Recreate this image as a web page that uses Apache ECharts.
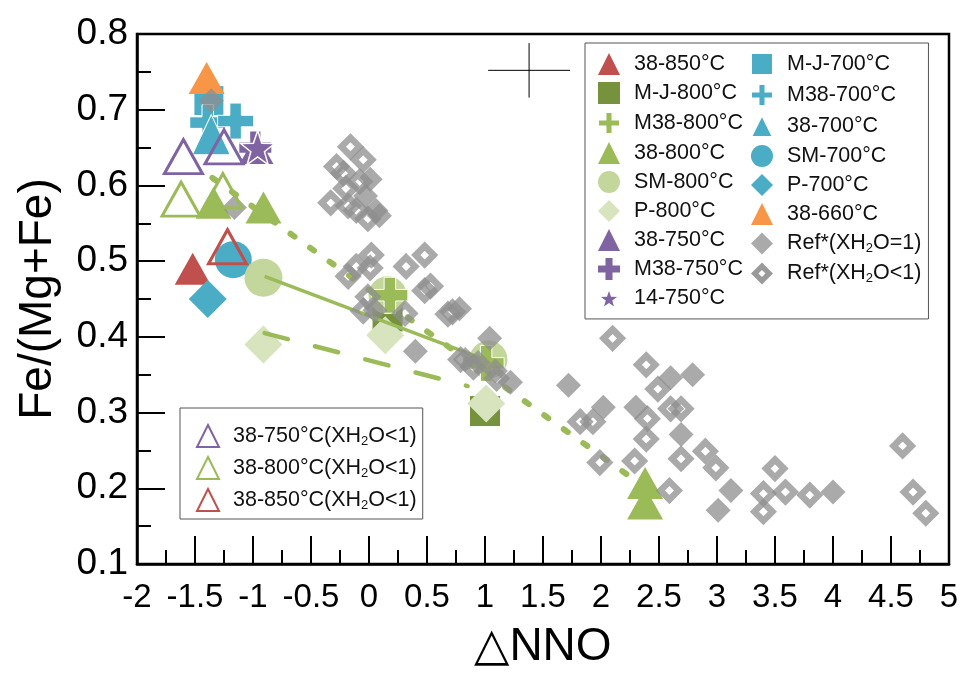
<!DOCTYPE html>
<html>
<head>
<meta charset="utf-8">
<script src="https://cdn.jsdelivr.net/npm/echarts@6/dist/echarts.min.js"></script>
<style>html,body{margin:0;padding:0;background:#fff}#chart{width:963px;height:675px}</style>
</head>
<body>
<div id="chart"></div>
<script>
// ---- data (ΔNNO, Fe/(Mg+Fe)) ----
const s38_850 = [[-1.52, 0.49]];
const mj800 = [[0.16, 0.427], [1.0, 0.302]];
const m38_800 = [[0.18, 0.455], [1.01, 0.365]];
const s38_800 = [[-1.34, 0.577], [-0.91, 0.571], [2.38, 0.207], [2.38, 0.18]];
const sm800 = [[-0.91, 0.478], [0.16, 0.455], [1.03, 0.37]];
const p800 = [[-0.91, 0.39], [0.14, 0.402], [1.01, 0.312]];
const s38_750 = [[-0.97, 0.648]];
const m38_750 = [[-0.98, 0.65]];
const s14_750 = [[-0.96, 0.65]];
const mj700 = [[-1.38, 0.712]];
const m38_700 = [[-1.39, 0.683], [-1.15, 0.685]];
const s38_700 = [[-1.36, 0.667]];
const sm700 = [[-1.17, 0.502]];
const p700 = [[-1.39, 0.45]];
const s38_660 = [[-1.40, 0.742]];
const open750 = [[-1.60, 0.638], [-1.25, 0.651]];
const open800 = [[-1.62, 0.582], [-1.26, 0.593]];
const open850 = [[-1.22, 0.519]];
const refSat = [[-1.36, 0.712], [-1.16, 0.571], [0.01, 0.608], [-0.03, 0.586], [0.06, 0.567], [0.09, 0.56],
  [0.05, 0.435], [0.78, 0.437], [0.40, 0.381], [0.83, 0.37], [1.04, 0.398], [0.94, 0.366], [1.09, 0.355],
  [1.22, 0.34], [1.72, 0.336], [2.60, 0.346], [2.79, 0.350], [2.02, 0.307], [2.30, 0.307], [2.69, 0.271],
  [3.12, 0.197], [3.01, 0.171], [4.00, 0.195]];
const refUnsat = [[-0.16, 0.651], [-0.05, 0.634], [-0.28, 0.625], [-0.22, 0.616], [-0.20, 0.596], [-0.33, 0.577],
  [-0.18, 0.573], [-0.11, 0.567], [-0.01, 0.556], [-0.08, 0.605],
  [-0.11, 0.493], [0.02, 0.508], [0.01, 0.491], [-0.18, 0.48], [0.32, 0.493], [0.48, 0.508], [0.53, 0.467],
  [0.48, 0.461], [0.72, 0.433], [-0.01, 0.453], [-0.05, 0.434], [0.31, 0.431], [0.79, 0.37], [0.68, 0.43],
  [0.90, 0.36], [1.10, 0.345],
  [2.10, 0.398], [2.39, 0.363], [2.49, 0.331], [1.82, 0.288], [1.93, 0.288], [2.40, 0.292], [2.60, 0.305],
  [2.69, 0.305], [2.39, 0.265], [2.69, 0.239], [2.90, 0.249], [2.99, 0.227], [1.99, 0.234], [2.29, 0.236],
  [2.59, 0.197], [3.40, 0.193], [3.40, 0.169], [3.50, 0.226], [3.59, 0.195], [3.80, 0.191], [4.60, 0.256],
  [4.69, 0.195], [4.80, 0.167]];
const trendDotted = [[-1.35, 0.61], [2.3, 0.21]];
const trendSolid = [[-0.9, 0.48], [1.0, 0.37]];
const trendDashed = [[-0.9, 0.405], [0.85, 0.335]];
const crossCenter = [1.38, 0.752];
const crossHalf = [0.353, 0.036];
const xTicks = {min: -2, max: 5, step: 0.5};
const yTicks = {min: 0.1, max: 0.8, step: 0.1};
const legendMain = ['38-850°C', 'M-J-800°C', 'M38-800°C', '38-800°C', 'SM-800°C', 'P-800°C', '38-750°C', 'M38-750°C', '14-750°C',
  'M-J-700°C', 'M38-700°C', '38-700°C', 'SM-700°C', 'P-700°C', '38-660°C', 'Ref*(XH2O=1)', 'Ref*(XH2O<1)'];
const legendOpen = ['38-750°C(XH2O<1)', '38-800°C(XH2O<1)', '38-850°C(XH2O<1)'];

// ---- styling ----
const RED = '#c0504d', OLIVE = '#76923c', GREEN = '#9bbb59', LGREEN = '#c3d69b', PGREEN = '#d7e4bd',
      PURPLE = '#8064a2', CYAN = '#4bacc6', ORANGE = '#f79646', GRAY = '#8e8e8e';
const PLUS = 'path://M34,0 H66 V34 H100 V66 H66 V100 H34 V66 H0 V34 H34 Z';
const STAR = 'path://M50,0 L61.76,33.82 L97.55,34.55 L69.02,56.18 L79.39,90.45 L50,70 L20.61,90.45 L30.98,56.18 L2.45,34.55 L38.24,33.82 Z';
const RING = 'path://M50,0 L100,50 L50,100 L0,50 Z M50,34 L34,50 L50,66 L66,50 Z';
const FONT = '"Liberation Sans", Arial, sans-serif';

function sc(name, data, symbol, size, color, extra) {
  return {
    type: 'scatter', name: name, data: data, symbol: symbol, symbolSize: size,
    itemStyle: Object.assign({color: color, opacity: 1}, (extra && extra.itemStyle) || {}),
    emphasis: {disabled: true}, z: (extra && extra.z) || 3
  };
}
function ln(data, style) {
  return {type: 'line', data: data, symbol: 'none', silent: true, z: 4, lineStyle: style, emphasis: {disabled: true}};
}
const crossH = [[crossCenter[0] - crossHalf[0], crossCenter[1]], [crossCenter[0] + crossHalf[0], crossCenter[1]]];
const crossV = [[crossCenter[0], crossCenter[1] - crossHalf[1]], [crossCenter[0], crossCenter[1] + crossHalf[1]]];
const whiteEdge = {borderColor: '#ffffff', borderWidth: 1};

const series = [
  sc('M-J-700°C', mj700, 'rect', 30, CYAN, {itemStyle: whiteEdge}),
  sc('M38-700°C', m38_700, PLUS, 36, CYAN, {itemStyle: whiteEdge}),
  sc('38-700°C', s38_700, 'triangle', [38, 40], CYAN, {itemStyle: whiteEdge}),
  sc('38-660°C', s38_660, 'triangle', [36, 32], ORANGE),
  sc('38-850°C', s38_850, 'triangle', [36, 32], RED),
  sc('SM-700°C', sm700, 'circle', 37, CYAN),
  sc('P-700°C', p700, 'diamond', 38, CYAN),
  sc('38-750°C', s38_750, 'triangle', [34, 30], PURPLE),
  sc('M38-750°C', m38_750, PLUS, 32, PURPLE),
  sc('14-750°C', s14_750, STAR, 34, PURPLE, {itemStyle: {borderColor: '#ffffff', borderWidth: 1.5}}),
  sc('38-800°C', s38_800, 'triangle', [36, 32], GREEN),
  sc('M-J-800°C', mj800, 'rect', 30, OLIVE),
  sc('P-800°C', p800, 'diamond', 38, PGREEN),
  sc('SM-800°C', sm800, 'circle', 38, LGREEN),
  sc('M38-800°C', m38_800, PLUS, 36, GREEN, {itemStyle: whiteEdge}),
  ln(trendDotted, {color: GREEN, width: 6, type: [5, 19], cap: 'round'}),
  ln(trendSolid, {color: GREEN, width: 3.5, type: 'solid'}),
  ln(trendDashed, {color: GREEN, width: 4.5, type: [24, 28], cap: 'round'}),
  sc('Ref*(XH2O=1)', refSat, 'diamond', 25, GRAY, {itemStyle: {opacity: 0.75}, z: 5}),
  sc('Ref*(XH2O<1)', refUnsat, 'diamond', 18, 'rgba(255,255,255,0)', {itemStyle: {borderColor: GRAY, borderWidth: 6.5, opacity: 0.75}, z: 5}),
  sc('38-750°C(XH2O<1)', open750, 'triangle', [38, 34], 'rgba(255,255,255,0)', {itemStyle: {borderColor: PURPLE, borderWidth: 3}, z: 6}),
  sc('38-800°C(XH2O<1)', open800, 'triangle', [38, 34], 'rgba(255,255,255,0)', {itemStyle: {borderColor: GREEN, borderWidth: 3}, z: 6}),
  sc('38-850°C(XH2O<1)', open850, 'triangle', [38, 34], 'rgba(255,255,255,0)', {itemStyle: {borderColor: RED, borderWidth: 3}, z: 6}),
  ln(crossH, {color: '#000', width: 1}),
  ln(crossV, {color: '#000', width: 1})
];

function subFmt(name) {
  const i = name.indexOf('H2O');
  const head = '{g| }';
  if (i < 0) return head + '{t|' + name + '}';
  return head + '{t|' + name.slice(0, i + 1) + '}{s|2}{t|' + name.slice(i + 2) + '}';
}
const richText = {
  g: {width: 9, fontSize: 10, lineHeight: 22},
  t: {fontSize: 21.5, fontFamily: FONT, color: '#111', lineHeight: 22},
  s: {fontSize: 13, fontFamily: FONT, color: '#111', lineHeight: 12, padding: [10, 0, 0, 0]}
};
const legendMainData = legendMain.map(n => n === 'Ref*(XH2O<1)'
  ? {name: n, icon: RING, itemStyle: {color: '#9a9a9a', borderWidth: 0, opacity: 1}} : {name: n});

const chart = echarts.init(document.getElementById('chart'), null, {renderer: 'canvas'});
chart.setOption({
  backgroundColor: '#ffffff',
  animation: false,
  grid: {left: 137, right: 14, top: 34, bottom: 100, show: true, borderColor: '#000', borderWidth: 2.5, backgroundColor: 'transparent'},
  xAxis: {
    type: 'value', min: xTicks.min, max: xTicks.max, interval: xTicks.step,
    axisLine: {show: true, onZero: false, lineStyle: {color: '#000', width: 2.5}},
    axisTick: {show: true, inside: true, length: 28, lineStyle: {color: '#000', width: 2}},
    minorTick: {show: true, splitNumber: 2, length: 14, lineStyle: {color: '#000', width: 2}},
    splitLine: {show: false},
    axisLabel: {fontSize: 33, fontFamily: FONT, color: '#000', margin: 17},
    name: '△NNO', nameLocation: 'middle', nameGap: 60,
    nameTextStyle: {fontSize: 46, fontFamily: FONT, color: '#000'}
  },
  yAxis: {
    type: 'value', min: yTicks.min, max: yTicks.max, interval: yTicks.step,
    axisLine: {show: true, onZero: false, lineStyle: {color: '#000', width: 2.5}},
    axisTick: {show: true, inside: true, length: 28, lineStyle: {color: '#000', width: 2}},
    minorTick: {show: true, splitNumber: 2, length: 14, lineStyle: {color: '#000', width: 2}},
    splitLine: {show: false},
    axisLabel: {fontSize: 37, fontFamily: FONT, color: '#000', margin: 9,
      formatter: v => v.toFixed(1)},
    name: 'Fe/(Mg+Fe)', nameLocation: 'middle', nameGap: 76,
    nameTextStyle: {fontSize: 46, fontFamily: FONT, color: '#000'}
  },
  legend: [
    {
      data: legendMainData, orient: 'vertical', left: 585, top: 43, height: 264,
      padding: [9, 7, 9, 12], itemGap: 7, itemWidth: 22, itemHeight: 22,
      borderColor: '#555', borderWidth: 1, selectedMode: false,
      formatter: subFmt, textStyle: {rich: richText, fontSize: 21.5, fontFamily: FONT}
    },
    {
      data: legendOpen, orient: 'vertical', left: 180, top: 408,
      padding: [16, 6, 7, 16], itemGap: 8, itemWidth: 22, itemHeight: 22,
      borderColor: '#555', borderWidth: 1, selectedMode: false,
      formatter: subFmt, textStyle: {rich: richText, fontSize: 21.5, fontFamily: FONT}
    }
  ],
  series: series
});
</script>
</body>
</html>
